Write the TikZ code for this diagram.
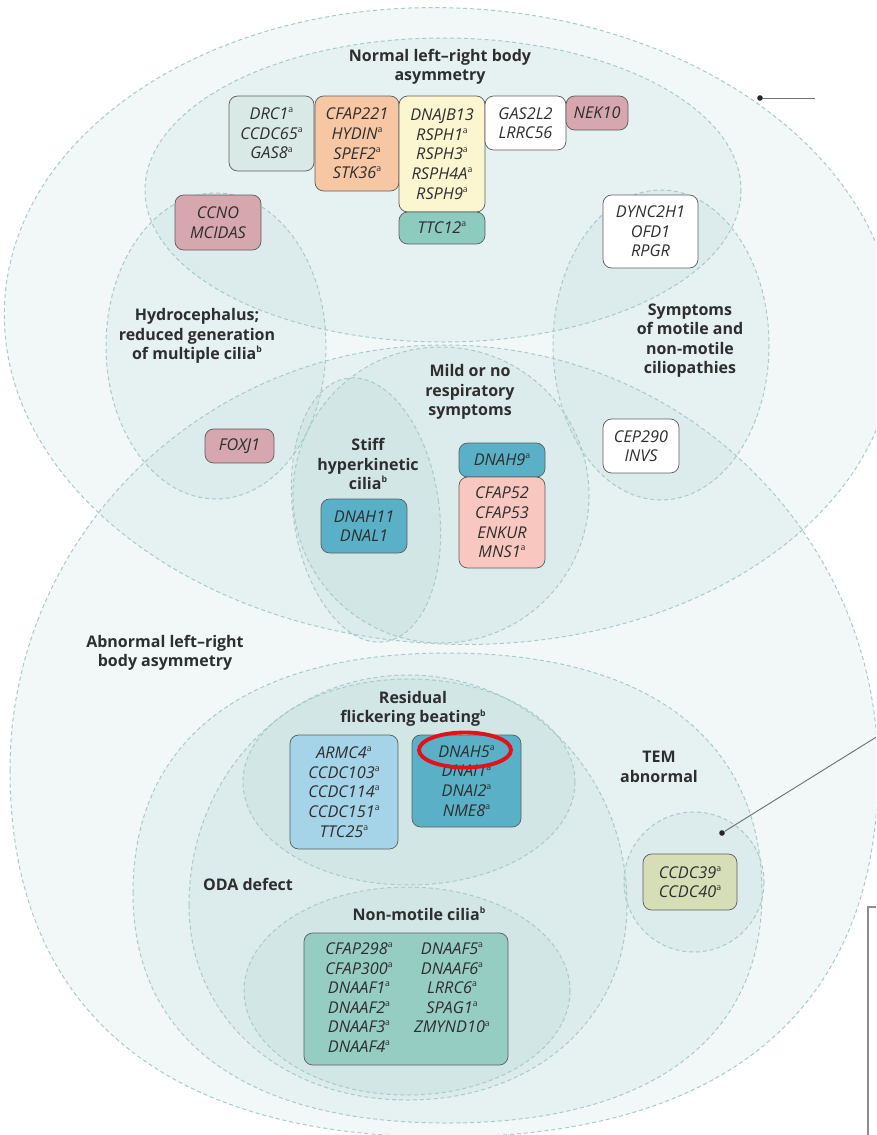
\documentclass[tikz,border=0pt]{standalone}
\usepackage{fontspec}
\setmainfont{Open Sans}
\definecolor{ellfill}{HTML}{8CC0C0}
\definecolor{elldash}{HTML}{A9CACA}
\definecolor{boxline}{HTML}{5E5E5E}
\definecolor{txt}{HTML}{2E2E2E}
\definecolor{cgray}{HTML}{D9E9E6}
\definecolor{corange}{HTML}{F7C6A3}
\definecolor{cyellow}{HTML}{FBF6D0}
\definecolor{cteal}{HTML}{8DCBBF}
\definecolor{cmauve}{HTML}{D6A7AE}
\definecolor{cblue}{HTML}{5AB0C7}
\definecolor{cpink}{HTML}{F8C8C0}
\definecolor{clblue}{HTML}{A5D4E8}
\definecolor{colive}{HTML}{D5DEB6}
\definecolor{cgreen}{HTML}{95CDC3}
\definecolor{cred}{HTML}{E5101A}
\definecolor{connc}{HTML}{707070}
\newcommand{\px}{0.75pt}
\newcommand{\genefont}{\itshape\fontsize{12.2}{14.7}\selectfont}
\newcommand{\labfont}{\bfseries\fontsize{12}{14.6}\selectfont}
\newcommand{\sa}{\raisebox{0.42em}{\upshape\fontsize{6.5}{7}\selectfont a}}
\newcommand{\sbb}{\raisebox{0.42em}{\fontsize{6.5}{7}\selectfont b}}
% blob: cx cy rleft rright rtop rbottom ktop kbottom
\newcommand{\blobpath}[8]{({#1-#3},{#2}) .. controls ({#1-#3},{#2-#7*#5}) and ({#1-#7*#3},{#2-#5}) .. ({#1},{#2-#5})
 .. controls ({#1+#7*#4},{#2-#5}) and ({#1+#4},{#2-#7*#5}) .. ({#1+#4},{#2})
 .. controls ({#1+#4},{#2+#8*#6}) and ({#1+#8*#4},{#2+#6}) .. ({#1},{#2+#6})
 .. controls ({#1-#8*#3},{#2+#6}) and ({#1-#3},{#2+#8*#6}) .. cycle}
\newcommand{\EA}[1]{\path[#1, rotate around={-3:(450,326)}] (450,326) ellipse [x radius=446, y radius=318];}
\newcommand{\EB}[1]{\path[#1] (443,190) ellipse [x radius=298, y radius=152];}
\newcommand{\EC}[1]{\path[#1] (216,346) ellipse [x radius=110, y radius=153];}
\newcommand{\ED}[1]{\path[#1] (661,345) ellipse [x radius=108, y radius=155];}
\newcommand{\EE}[1]{\path[#1] \blobpath{444}{770}{434}{434}{425}{367}{0.5523}{0.65};}
\newcommand{\EF}[1]{\path[#1] (441,495) circle [radius=148];}
\newcommand{\EG}[1]{\path[#1, rotate around={8:(366,510)}] (366,510) ellipse [x radius=73, y radius=133];}
\newcommand{\EH}[1]{\path[#1] \blobpath{447}{893}{314}{315}{240}{230}{0.64}{0.64};}
\newcommand{\EI}[1]{\path[#1] \blobpath{408}{905}{219}{219}{230}{195}{0.56}{0.58};}
\newcommand{\EJ}[1]{\path[#1] (409,782) ellipse [x radius=166, y radius=103];}
\newcommand{\EK}[1]{\path[#1] (407,991) ellipse [x radius=163, y radius=104];}
\newcommand{\EL}[1]{\path[#1] (694,882) circle [radius=70];}
\begin{document}
\begin{tikzpicture}[x=0.75pt,y=-0.75pt,
  ellf/.style={fill=ellfill, fill opacity=0.11},
  elld/.style={draw=elldash, line width=0.75pt, dash pattern=on 3pt off 2.2pt},
  gene/.style={draw=boxline, line width=0.55pt, rounded corners=6.5pt, inner sep=0pt, align=center, font=\genefont, text=txt},
  genetext/.style={inner sep=0pt, align=center, font=\genefont, text=txt},
  lab/.style={align=center, font=\labfont, text=txt, inner sep=0pt},
  dotn/.style={circle, fill=black!85, inner sep=0pt, minimum size=4.2pt},
  connl/.style={draw=connc, line width=0.7pt}]
\fill[white] (0,0) rectangle (876,1135);
\useasboundingbox (0,0) rectangle (876,1135);
\clip (0,0) rectangle (876,1135);
% region fills
\EA{ellf}\EB{ellf}\EC{ellf}\ED{ellf}\EE{ellf}\EF{ellf}\EG{ellf}
\EH{ellf}\EI{ellf}\EJ{ellf}\EK{ellf}\EL{ellf}
% dashed outlines
\EA{elld}\EB{elld}\EC{elld}\ED{elld}\EE{elld}\EF{elld}\EG{elld}
\EH{elld}\EI{elld}\EJ{elld}\EK{elld}\EL{elld}
% labels
\node[lab] (lnormal) at (440,67) {Normal left–right body\\asymmetry};
\node[lab] (lhydro) at (197,336) {Hydrocephalus;\\reduced generation\\of multiple cilia\sbb};
\node[lab] (lsympt) at (690,340.5) {Symptoms\\of motile and\\non-motile\\ciliopathies};
\node[lab] (lmild) at (470,392) {Mild or no\\respiratory\\symptoms};
\node[lab] (lstiff) at (368,464) {Stiff\\hyperkinetic\\cilia\sbb};
\node[lab] (labn) at (165,653) {Abnormal left–right\\body asymmetry};
\node[lab] (lresid) at (413,709) {Residual\\flickering beating\sbb};
\node[lab] (ltem) at (659,767) {TEM\\abnormal};
\node[lab] (loda) at (248,884) {ODA defect};
\node[lab] (lnm) at (419,914) {Non-motile cilia\sbb};
% gene boxes
\node[gene, fill=cgray, minimum width=85*\px, minimum height=75*\px] (drc) at (271.5,133.5) {DRC1\sa\\CCDC65\sa\\GAS8\sa};
\node[gene, fill=corange, minimum width=84*\px, minimum height=95*\px] (cfap221) at (357,143.5) {CFAP221\\HYDIN\sa\\SPEF2\sa\\STK36\sa};
\node[gene, fill=cyellow, minimum width=86*\px, minimum height=116*\px] (dnajb) at (442,154) {DNAJB13\\RSPH1\sa\\RSPH3\sa\\RSPH4A\sa\\RSPH9\sa};
\node[gene, fill=cteal, minimum width=86*\px, minimum height=32*\px] (ttc) at (442,228) {TTC12\sa};
\node[gene, fill=white, minimum width=81*\px, minimum height=54*\px] (gas) at (525.5,123) {GAS2L2\\LRRC56};
\node[gene, fill=cmauve, minimum width=62*\px, minimum height=34*\px] (nek) at (597,113) {NEK10};
\node[gene, fill=cmauve, minimum width=86*\px, minimum height=55*\px] (ccno) at (218,222.5) {CCNO\\MCIDAS};
\node[gene, fill=cmauve, minimum width=69*\px, minimum height=34*\px] (foxj) at (239.5,446) {FOXJ1};
\node[gene, fill=white, minimum width=95*\px, minimum height=73*\px] (dync) at (650.5,231.5) {DYNC2H1\\OFD1\\RPGR};
\node[gene, fill=white, minimum width=76*\px, minimum height=54*\px] (cep) at (641,446) {CEP290\\INVS};
\node[gene, fill=cblue, minimum width=86*\px, minimum height=34*\px] (dnah9) at (502,460) {DNAH9\sa};
\node[gene, fill=cpink, minimum width=86*\px, minimum height=91*\px] (cfap52) at (502,522.5) {CFAP52\\CFAP53\\ENKUR\\MNS1\sa};
\node[gene, fill=cblue, minimum width=86*\px, minimum height=54*\px] (dnah11) at (364,526) {DNAH11\\DNAL1};
\node[gene, fill=clblue, minimum width=108*\px, minimum height=114*\px] (armc) at (344,792) {ARMC4\sa\\CCDC103\sa\\CCDC114\sa\\CCDC151\sa\\TTC25\sa};
\node[gene, fill=cblue, minimum width=109*\px, minimum height=92*\px] (dnah5) at (466.5,781) {DNAH5\sa\\DNAI1\sa\\DNAI2\sa\\NME8\sa};
\node[gene, fill=colive, minimum width=94*\px, minimum height=56*\px] (ccdc39) at (690,882) {CCDC39\sa\\CCDC40\sa};
\node[gene, fill=cgreen, minimum width=204*\px, minimum height=132*\px] (nm) at (406,999) {};
\node[genetext] (nml) at (359,997.5) {CFAP298\sa\\CFAP300\sa\\DNAAF1\sa\\DNAAF2\sa\\DNAAF3\sa\\DNAAF4\sa};
\node[genetext] (nmr) at (452,988) {DNAAF5\sa\\DNAAF6\sa\\LRRC6\sa\\SPAG1\sa\\ZMYND10\sa};
% red highlight
\draw[cred, line width=2.9pt] (465,750) ellipse [x radius=46, y radius=17.5];
% pointers
\node[dotn] (d1) at (760,98) {};
\coordinate (e1) at (815,98);
\draw[connl] (d1) -- (e1);
\node[dotn] (d2) at (722,833) {};
\coordinate (e2) at (878,736);
\draw[connl] (d2) -- (e2);
% cropped frame
\draw[draw=connc!80, line width=0.8pt] (868,1140) -- (868,907) -- (880,907);
\end{tikzpicture}
\end{document}
